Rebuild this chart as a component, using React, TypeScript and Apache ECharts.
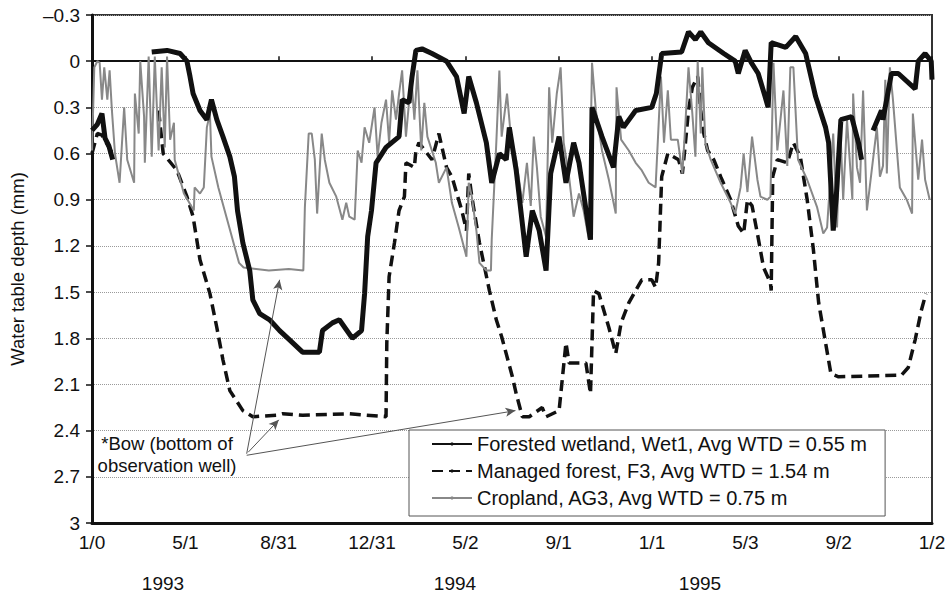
import React, { useEffect, useRef } from "react";
import * as echarts from "echarts";

// x values are days counted from 1/0/1993 (= Dec 31, 1992); y values are water table depth
const tickLabels = ["1/0", "5/1", "8/31", "12/31", "5/2", "9/1", "1/1", "5/3", "9/2", "1/2"];
const yearLabels = ["1993", "1994", "1995"];
const xMax = 1097;

const wetDays = [0, 7, 13, 17, 22, 27, 50, 78, 98, 115, 124, 128, 132, 141, 150, 156, 163, 171, 180, 186, 190, 197, 206, 210, 219, 232, 245, 258, 275, 297, 301, 314, 323, 340, 352, 356, 360, 365, 371, 384, 401, 405, 414, 418, 423, 431, 444, 463, 476, 486, 492, 502, 515, 522, 532, 541, 545, 554, 567, 575, 584, 593, 599, 610, 619, 629, 636, 651, 653, 666, 681, 688, 694, 710, 731, 737, 744, 770, 779, 788, 795, 805, 825, 840, 844, 853, 861, 870, 879, 883, 887, 906, 919, 932, 945, 958, 962, 968, 972, 978, 992, 1001, 1005, 1012, 1020, 1031, 1033, 1044, 1053, 1075, 1079, 1088, 1096, 1097];
const wetDepth = [0.45, 0.41, 0.34, 0.5, 0.55, 0.64, null, -0.06, -0.07, -0.05, 0, 0.1, 0.21, 0.32, 0.38, 0.25, 0.38, 0.49, 0.62, 0.75, 0.97, 1.18, 1.36, 1.55, 1.64, 1.68, 1.75, 1.81, 1.89, 1.89, 1.75, 1.7, 1.68, 1.8, 1.75, 1.51, 1.14, 0.97, 0.66, 0.56, 0.49, 0.25, 0.27, 0.1, -0.07, -0.08, -0.05, 0, 0.1, 0.34, 0.1, 0.27, 0.53, 0.79, 0.6, 0.64, 0.43, 0.71, 1.27, 0.97, 1.1, 1.36, 0.73, 0.49, 0.79, 0.53, 0.66, 1.16, 0.3, 0.49, 0.69, 0.36, 0.43, 0.32, 0.3, 0.21, -0.05, -0.06, -0.19, -0.14, -0.19, -0.12, -0.05, 0, 0.08, -0.07, 0.01, 0.08, 0.23, 0.3, -0.12, -0.09, -0.16, -0.05, 0.23, 0.43, 0.53, 1.1, 0.88, 0.38, 0.36, 0.53, 0.64, null, 0.45, 0.32, 0.38, 0.08, 0.08, 0.18, 0, -0.05, 0, 0.12];

const forDays = [0, 7, 13, 21, 29, 60, 87, 93, 111, 124, 132, 141, 154, 163, 171, 180, 197, 210, 241, 249, 275, 336, 384, 385, 388, 395, 401, 408, 410, 421, 423, 427, 444, 453, 463, 470, 483, 489, 492, 496, 506, 519, 528, 535, 549, 554, 562, 571, 588, 593, 610, 619, 623, 632, 645, 651, 655, 662, 675, 684, 691, 701, 718, 731, 736, 740, 744, 752, 766, 771, 775, 779, 784, 791, 795, 799, 804, 812, 821, 834, 844, 851, 856, 862, 869, 877, 886, 887, 889, 895, 908, 916, 925, 934, 942, 949, 958, 965, 975, 1057, 1066, 1075, 1083, 1089];
const forDepth = [0.6, 0.47, 0.48, 0.55, 0.62, null, 0.32, 0.6, 0.71, 0.88, 1.01, 1.29, 1.51, 1.73, 1.94, 2.14, 2.27, 2.31, 2.3, 2.29, 2.3, 2.29, 2.31, 1.83, 1.4, 1.18, 0.97, 0.88, 0.66, 0.69, 0.58, 0.53, 0.64, 0.47, 0.69, 0.75, 0.97, 1.1, 0.73, 0.88, 1.18, 1.49, 1.68, 1.79, 2.05, 2.16, 2.31, 2.31, 2.25, 2.31, 2.27, 1.83, 1.96, 1.96, 1.96, 2.16, 1.49, 1.51, 1.73, 1.9, 1.7, 1.57, 1.42, 1.42, 1.47, 1.31, 0.75, 0.6, 0.64, 0.73, 0.53, 0.32, 0.17, 0.1, 0.32, 0.47, 0.58, 0.64, 0.75, 0.9, 1.07, 1.12, 0.9, 0.94, 1.12, 1.34, 1.44, 1.49, 0.75, 0.64, 0.66, 0.53, 0.62, 0.9, 1.22, 1.57, 1.83, 2.03, 2.05, 2.04, 1.99, 1.81, 1.62, 1.51];

const cropDays = [0, 3, 7, 10, 13, 16, 20, 23, 26, 30, 36, 42, 46, 55, 56, 61, 63, 68, 69, 74, 78, 82, 87, 91, 95, 98, 102, 107, 108, 120, 133, 134, 141, 146, 150, 154, 156, 165, 192, 198, 231, 257, 276, 278, 283, 287, 291, 294, 300, 304, 310, 319, 327, 332, 336, 343, 347, 352, 356, 362, 369, 373, 378, 384, 388, 392, 397, 401, 405, 410, 417, 421, 425, 430, 434, 438, 449, 453, 463, 470, 479, 489, 492, 496, 502, 506, 515, 521, 522, 528, 532, 535, 542, 547, 554, 562, 568, 573, 577, 581, 586, 593, 597, 601, 607, 612, 616, 623, 629, 636, 642, 649, 653, 658, 666, 675, 684, 685, 691, 701, 710, 718, 727, 736, 743, 747, 752, 756, 765, 771, 775, 779, 784, 788, 791, 795, 797, 801, 808, 821, 834, 840, 847, 851, 856, 862, 869, 873, 882, 886, 890, 895, 903, 908, 912, 916, 922, 934, 947, 955, 960, 968, 973, 977, 981, 986, 993, 994, 999, 1003, 1007, 1012, 1025, 1029, 1033, 1036, 1038, 1042, 1046, 1055, 1064, 1071, 1072, 1079, 1084, 1088, 1094];
const cropDepth = [0.58, 0.04, 0, 0.01, 0.25, 0.04, 0.25, 0.06, 0.32, 0.6, 0.79, 0.3, 0.64, 0.79, 0.21, 0.47, 0, 0.36, 0.66, -0.03, 0.62, -0.03, 0.58, 0.04, 0.56, -0.03, 0.51, 0.4, 0.64, 0.86, 0.97, 0.82, 0.86, 0.82, 0.43, 0.34, 0.62, 0.82, 1.31, 1.34, 1.36, 1.35, 1.36, 0.95, 0.47, 0.47, 0.64, 0.99, 0.47, 0.64, 0.79, 0.88, 1.03, 0.92, 1.01, 1.03, 0.58, 0.66, 0.43, 0.53, 0.3, 0.62, 0.4, 0.25, 0.53, 0.19, 0.38, 0.21, 0.06, 0.49, 0.1, 0.38, 0.06, 0.58, 0.27, 0.49, 0.66, 0.79, 0.69, 0.92, 1.08, 1.27, 0.79, 0.88, 1.1, 1.31, 1.36, 1.36, 1.16, 0.53, 0.06, 0.49, 0.21, 0.49, 0.64, 0.92, 0.66, 0.94, 0.49, 0.69, 1.01, 1.14, 0.17, 0.53, 0.21, 0.04, 0.53, 0.75, 1.01, 0.86, 0.97, 1.16, 0.01, 0.32, 0.58, 0.77, 0.99, 0.17, 0.51, 0.58, 0.66, 0.71, 0.79, 0.82, 0.1, 0.53, 0.19, 0.51, 0.51, 0.73, 0.4, 0.04, 0.34, 0.62, 0, 0.47, 0.04, 0.53, 0.64, 0.79, 0.92, 0.99, 0.82, 0.6, 0.85, 0.49, 0.77, 0.88, 0.9, 0.88, 0.01, 0.58, 0.19, 0.68, 0.04, 0.04, 0.64, 0.77, 0.95, 1.12, 1.08, 0.47, 1.08, 0.4, 0.9, 0.38, 0.9, 0.21, 0.69, 0.79, 0.19, 0.97, 0.43, 0.75, 0.68, 0.12, 0.73, 0.04, 0.25, 0.82, 0.9, 0.99, 0.34, 0.77, 0.51, 0.77, 0.9];

// annotation arrows: [fromDay, fromDepth, toDay, toDepth]
const bowArrows = [
  [202, 2.55, 245, 1.42],
  [204, 2.54, 244, 2.33],
  [202, 2.56, 553, 2.27],
];

const FONT = '"Liberation Sans", Arial, Helvetica, sans-serif';

const zip = (xs: number[], ys: (number | null)[]) => xs.map((x, i) => [x, ys[i] === null ? "-" : ys[i]]);

export default function App() {
  const ref = useRef<HTMLDivElement>(null);
  useEffect(() => {
    if (!ref.current) return;
    const chart = echarts.init(ref.current, undefined, { renderer: "svg" });
    const xStep = xMax / 9;
    const yFmt = (v: number) => {
      const r = Math.round(v * 10) / 10;
      if (r < 0) return "\u2013" + String(Math.abs(r));
      return String(r);
    };
    chart.setOption({
      animation: false,
      backgroundColor: "#ffffff",
      textStyle: { fontFamily: FONT },
      grid: {
        left: 90,
        right: 17,
        top: 15,
        bottom: 72,
        show: true,
        borderColor: "#333",
        borderWidth: 2,
        backgroundColor: "transparent",
      },
      legend: {
        orient: "vertical",
        left: 409,
        top: 430,
        backgroundColor: "#ffffff",
        borderColor: "#555",
        borderWidth: 1,
        borderRadius: 0,
        padding: [4, 17, 8, 22],
        itemGap: 7,
        itemWidth: 40,
        itemHeight: 4,
        textStyle: { fontSize: 20, color: "#111", fontFamily: FONT },
        z: 10,
      },
      xAxis: [
        {
          type: "value",
          min: 0,
          max: xMax,
          interval: xStep,
          position: "bottom",
          axisLine: { onZero: false, lineStyle: { color: "#111", width: 3 } },
          axisTick: { show: false },
          splitLine: { show: false },
          axisLabel: {
            fontSize: 19,
            color: "#111",
            margin: 10,
            fontFamily: FONT,
            formatter: (v: number) => tickLabels[Math.round(v / xStep)] ?? "",
          },
        },
        {
          type: "value",
          min: 0,
          max: xMax,
          interval: xStep,
          position: "bottom",
          axisLine: { onZero: true, lineStyle: { color: "#111", width: 2 } },
          axisTick: { show: true, inside: true, length: 5, lineStyle: { color: "#111", width: 1.5 } },
          splitLine: { show: false },
          axisLabel: { show: false },
        },
      ],
      yAxis: {
        type: "value",
        inverse: true,
        min: -0.3,
        max: 3,
        interval: 0.3,
        name: "Water table depth (mm)",
        nameLocation: "middle",
        nameGap: 65,
        nameRotate: 90,
        nameTextStyle: { fontSize: 18.5, color: "#111", fontFamily: FONT },
        axisLine: { show: true, lineStyle: { color: "#111", width: 3 } },
        axisTick: { show: true, length: 6, lineStyle: { color: "#111", width: 1.5 } },
        axisLabel: { fontSize: 19, color: "#111", margin: 12, fontFamily: FONT, formatter: yFmt },
        splitLine: { show: true, lineStyle: { color: "#9a9a9a", type: "dotted", width: 1 } },
      },
      series: [
        {
          name: "Forested wetland, Wet1, Avg WTD = 0.55 m",
          type: "line",
          xAxisIndex: 0,
          data: zip(wetDays, wetDepth),
          symbol: "none",
          connectNulls: false,
          lineStyle: { color: "#111", width: 5 },
          itemStyle: { color: "#111" },
          z: 4,
        },
        {
          name: "Managed forest, F3, Avg WTD = 1.54 m",
          type: "line",
          xAxisIndex: 0,
          data: zip(forDays, forDepth),
          symbol: "none",
          connectNulls: false,
          lineStyle: { color: "#111", width: 3.5, type: [11, 6] },
          itemStyle: { color: "#111" },
          z: 2,
          markLine: {
            silent: true,
            symbol: ["none", "arrow"],
            symbolSize: [7, 10],
            label: { show: false },
            lineStyle: { color: "#555", width: 1, type: "solid" },
            data: bowArrows.map((a) => [{ coord: [a[0], a[1]] }, { coord: [a[2], a[3]] }]),
          },
        },
        {
          name: "Cropland, AG3, Avg WTD = 0.75 m",
          type: "line",
          xAxisIndex: 0,
          data: zip(cropDays, cropDepth),
          symbol: "none",
          lineStyle: { color: "#888888", width: 2 },
          itemStyle: { color: "#888888" },
          z: 3,
        },
      ],
      graphic: [
        {
          type: "text",
          x: 167,
          y: 432,
          style: {
            text: "*Bow (bottom of\nobservation well)",
            fill: "#111",
            font: `18.5px ${FONT}`,
            align: "center",
            textAlign: "center",
            lineHeight: 22,
          },
          z: 20,
        },
        ...[163, 455, 700].map((x, i) => ({
          type: "text",
          x,
          y: 574,
          style: {
            text: yearLabels[i],
            fill: "#111",
            font: `19px ${FONT}`,
            align: "center",
            textAlign: "center",
          },
        })),
      ],
    });
    return () => chart.dispose();
  }, []);
  return <div ref={ref} style={{ position: "fixed", left: 0, top: 0, width: 949, height: 595 }} />;
}
